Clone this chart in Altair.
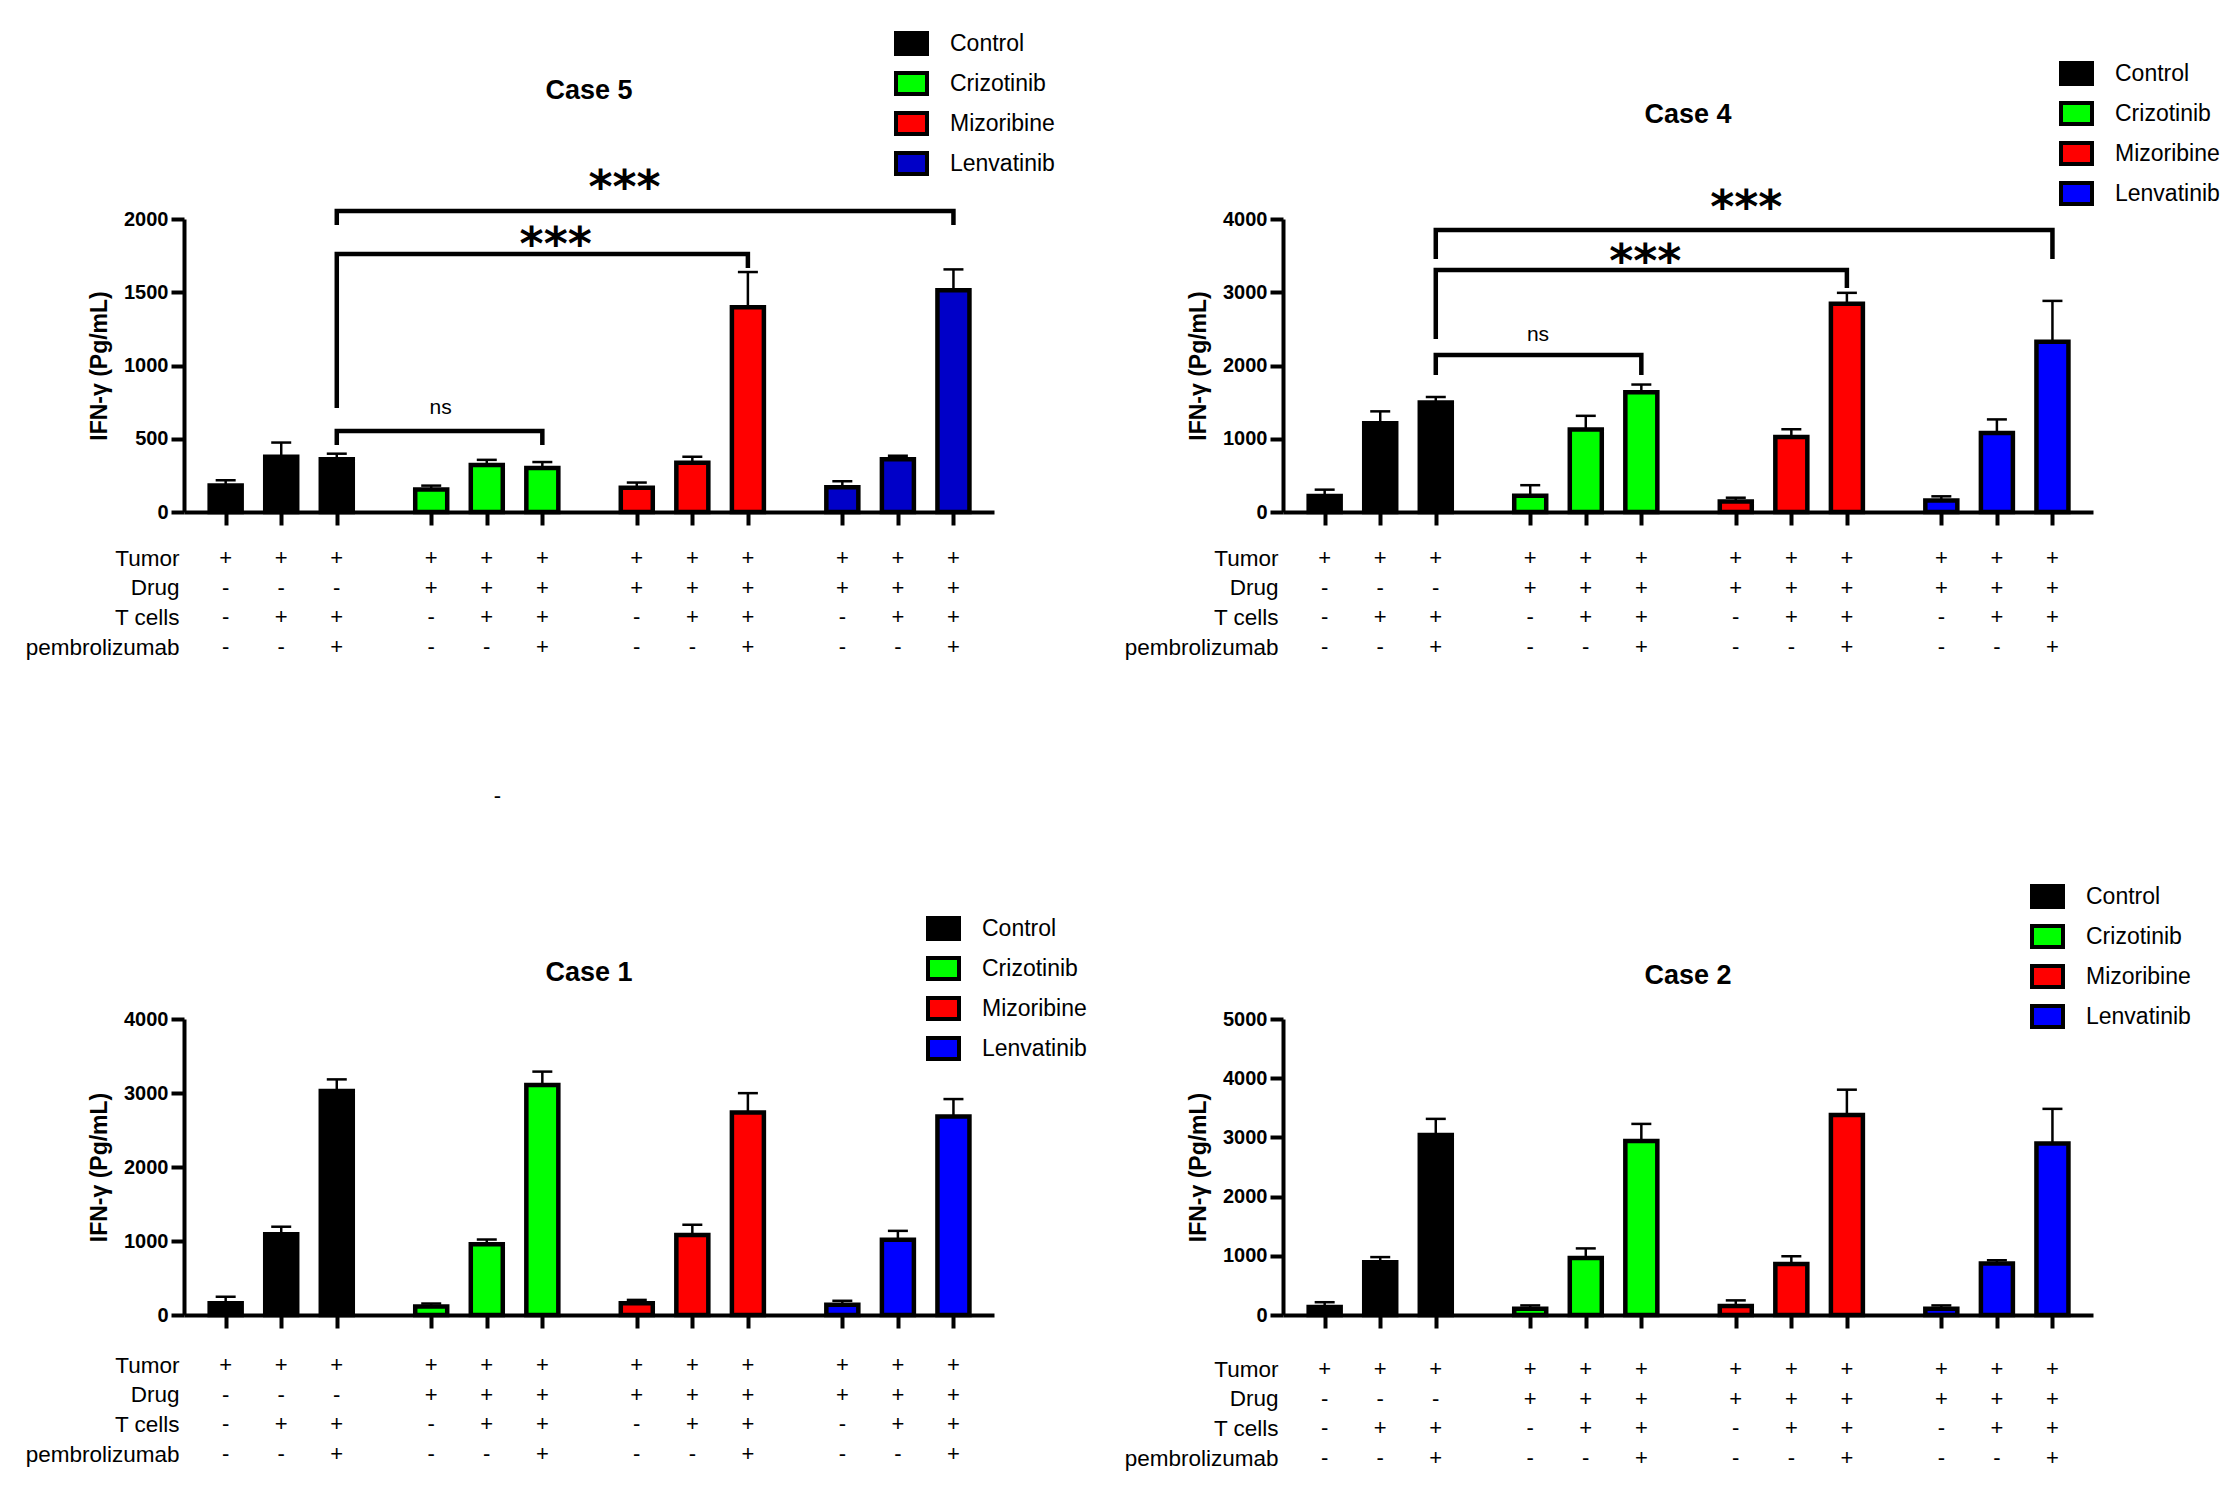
import altair as alt
import pandas as pd

F = "Liberation Sans, Arial, sans-serif"
FSTAR = "DejaVu Sans, Liberation Sans, sans-serif"

drugs = ["Control", "Crizotinib", "Mizoribine", "Lenvatinib"]
row_names = ["Tumor", "Drug", "T cells", "pembrolizumab"]
tumor_row = ["+"] * 12
drug_row = ["-", "-", "-"] + ["+"] * 9
tcell_row = ["-", "+", "+"] * 4
pembro_row = ["-", "-", "+"] * 4

# Case 5
case5_mean = [181, 377, 360, 153, 321, 300, 166, 336, 1398, 169, 360, 1514]
case5_sem = [35, 97, 38, 27, 35, 41, 35, 41, 240, 41, 24, 142]
# Case 4
case4_mean = [217, 1213, 1494, 223, 1127, 1634, 144, 1023, 2843, 156, 1078, 2324]
case4_sem = [88, 161, 76, 143, 186, 106, 51, 107, 149, 58, 186, 558]
# Case 1
case1_mean = [158, 1092, 3027, 115, 956, 3107, 158, 1080, 2736, 140, 1018, 2681]
case1_sem = [89, 101, 157, 40, 64, 182, 46, 138, 262, 52, 119, 237]
# Case 2
case2_mean = [136, 891, 3041, 106, 961, 2941, 152, 861, 3380, 106, 868, 2895]
case2_sem = [80, 87, 272, 56, 164, 287, 95, 133, 426, 56, 57, 587]

# significance brackets (bar index from, bar index to, height, left-leg end, right-leg end)
case5_br_from = [2, 2, 2]
case5_br_to = [5, 8, 11]
case5_br_h = [553, 1761, 2055]
case5_br_lleg = [457, 710, 1959]
case5_br_rleg = [457, 1666, 1959]
case5_br_text = ["ns", "***", "***"]
case5_br_tx = [3.87, 5.94, 7.18]
case5_br_ty = [710, 1904, 2293]

case4_br_from = [2, 2, 2]
case4_br_to = [5, 8, 11]
case4_br_h = [2143, 3303, 3849]
case4_br_lleg = [1870, 2361, 3453]
case4_br_rleg = [1870, 3058, 3453]
case4_br_text = ["ns", "***", "***"]
case4_br_tx = [3.84, 5.77, 7.59]
case4_br_ty = [2416, 3576, 4313]

# stray dash seen between the panels (in Case 5 panel coordinates)
stray_text = ["-"]
stray_x = [4.89]
stray_y = [-1939]

colors5 = ["#000000", "#00FF00", "#FF0000", "#0000C8"]
colors_std = ["#000000", "#00FF00", "#FF0000", "#0000FF"]

GROUP_STEP = 3.7
XDOM = [-0.66, 13.74]
W = 810


def bar_positions():
    return [g * GROUP_STEP + c for g in range(4) for c in range(3)]


def panel(title, means, sems, colors, ymax, ystep, height, row_range,
          title_offset, legend_xy, brackets=None, stray=None):
    pos = bar_positions()
    df = pd.DataFrame({
        "drug": [d for d in drugs for _ in range(3)],
        "pos": pos,
        "mean": means,
        "sem": sems,
    })
    df["top"] = df["mean"] + df["sem"]

    xscale = alt.Scale(domain=XDOM, nice=False, zero=False)
    yscale = alt.Scale(domain=[0, ymax], nice=False, zero=True)
    xaxis = alt.Axis(values=pos, labels=False, title=None, grid=False,
                     domainWidth=4, domainColor="black",
                     tickSize=13, tickWidth=4, tickColor="black")
    yaxis = alt.Axis(values=list(range(0, ymax + 1, ystep)), format="d",
                     title="IFN-γ (Pg/mL)", grid=False,
                     domainWidth=4, domainColor="black",
                     tickSize=13, tickWidth=4, tickColor="black",
                     labelFont=F, labelFontSize=20, labelFontWeight="bold",
                     labelColor="black", labelPadding=3,
                     titleFont=F, titleFontSize=23, titleFontWeight="bold",
                     titleColor="black", titlePadding=12)

    def X(field):
        return alt.X(field, scale=xscale, axis=xaxis)

    def Y(field):
        return alt.Y(field, scale=yscale, axis=yaxis)

    bars = alt.Chart(df).mark_bar(size=32, stroke="black", strokeWidth=4.5).encode(
        x=X("pos:Q"),
        y=Y("mean:Q"),
        color=alt.Color("drug:N",
                        scale=alt.Scale(domain=drugs, range=colors),
                        legend=alt.Legend(title=None, orient="none",
                                          legendX=legend_xy[0], legendY=legend_xy[1],
                                          symbolType="M-1,-0.68H1V0.68H-1Z",
                                          symbolSize=961, symbolStrokeColor="black",
                                          symbolStrokeWidth=4, symbolOpacity=1,
                                          labelFont=F, labelFontSize=23,
                                          labelColor="black", rowPadding=1,
                                          labelOffset=21)),
    )
    rules = alt.Chart(df).mark_rule(color="black", strokeWidth=2.5).encode(
        x=X("pos:Q"), y=Y("mean:Q"), y2="top:Q",
    )
    caps = alt.Chart(df).mark_tick(orient="horizontal", size=20, thickness=2.5,
                                   color="black", opacity=1).encode(
        x=X("pos:Q"), y=Y("top:Q"),
    )
    layers = [rules, caps, bars]

    if brackets is not None:
        bf, bt, bh, bl, brr, btxt, btx, bty = brackets
        recs = []
        for i in range(len(bf)):
            xl, xr = pos[bf[i]], pos[bt[i]]
            pts = [(xl, bl[i]), (xl, bh[i]), (xr, bh[i]), (xr, brr[i])]
            for k, (px, py) in enumerate(pts):
                recs.append({"bid": i, "ord": k, "bx": px, "by": py})
        bdf = pd.DataFrame(recs)
        lines = alt.Chart(bdf).mark_line(color="black", strokeWidth=4.5,
                                         strokeJoin="miter", strokeCap="butt").encode(
            x=X("bx:Q"), y=Y("by:Q"), detail="bid:N", order="ord:Q",
        )
        tdf = pd.DataFrame({"t": btxt, "tx": btx, "ty": bty})
        stars = alt.Chart(tdf).transform_filter(alt.datum.t != "ns").mark_text(
            font=FSTAR, fontSize=46, fontWeight="bold", color="black",
            baseline="alphabetic", dy=27).encode(
            x=X("tx:Q"), y=Y("ty:Q"), text=alt.Text("t:N"),
        )
        ns = alt.Chart(tdf).transform_filter(alt.datum.t == "ns").mark_text(
            font=F, fontSize=21, color="black").encode(
            x=X("tx:Q"), y=Y("ty:Q"), text=alt.Text("t:N"),
        )
        layers += [lines, stars, ns]

    if stray is not None:
        sdf = pd.DataFrame({"t": stray[0], "tx": stray[1], "ty": stray[2]})
        layers.append(alt.Chart(sdf).mark_text(font=F, fontSize=22, color="black").encode(
            x=X("tx:Q"), y=Y("ty:Q"), text="t:N",
        ))

    main = alt.layer(*layers)

    trecs = []
    for rname, arr in zip(row_names, [tumor_row, drug_row, tcell_row, pembro_row]):
        for p, s in zip(pos, arr):
            trecs.append({"row": rname, "pos": p, "sign": s})
    tdf2 = pd.DataFrame(trecs)
    table = alt.Chart(tdf2).mark_text(font=F, fontSize=22, color="black").encode(
        x=X("pos:Q"),
        y=alt.Y("row:N", sort=row_names,
                scale=alt.Scale(type="point", domain=row_names, range=row_range, padding=0),
                axis=alt.Axis(orient="left", domain=False, ticks=False, grid=False,
                              title=None, labelFont=F, labelFontSize=22.5,
                              labelColor="black", labelPadding=5)),
        text="sign:N",
    )

    return alt.layer(main, table).resolve_scale(y="independent").properties(
        width=W, height=height,
        title=alt.TitleParams(title, font=F, fontSize=27, fontWeight="bold",
                              color="black", anchor="middle", frame="group",
                              offset=title_offset),
    )


p5 = panel("Case 5", case5_mean, case5_sem, colors5, 2000, 500, 293, [339, 428], -79,
           (710, -193),
           brackets=(case5_br_from, case5_br_to, case5_br_h, case5_br_lleg, case5_br_rleg,
                     case5_br_text, case5_br_tx, case5_br_ty),
           stray=(stray_text, stray_x, stray_y))
p4 = panel("Case 4", case4_mean, case4_sem, colors_std, 4000, 1000, 293, [339, 428], -73,
           (776, -163),
           brackets=(case4_br_from, case4_br_to, case4_br_h, case4_br_lleg, case4_br_rleg,
                     case4_br_text, case4_br_tx, case4_br_ty))
p1 = panel("Case 1", case1_mean, case1_sem, colors_std, 4000, 1000, 296, [346, 435], -76,
           (742, -108))
p2 = panel("Case 2", case2_mean, case2_sem, colors_std, 5000, 1000, 296, [350, 439], -111,
           (747, -140))

chart = alt.concat(p5, p4, p1, p2, columns=2,
                   spacing=alt.RowColnumber(row=507, column=289),
                   bounds="flush").resolve_scale(color="independent").properties(
    padding={"left": 17, "top": 18, "right": 6, "bottom": 6},
    background="white",
).configure_view(stroke=None)

chart.save("out.html", embed_options={"renderer": "svg", "actions": False})
